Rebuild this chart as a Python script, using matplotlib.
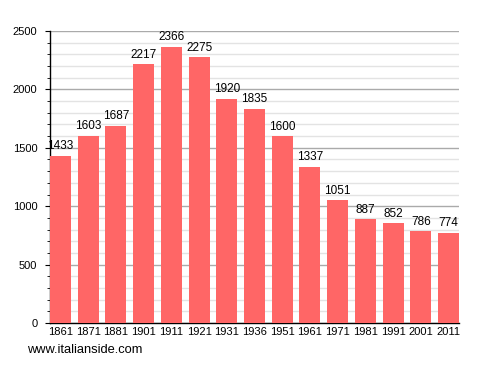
import matplotlib
matplotlib.use("Agg")
import matplotlib.pyplot as plt
from matplotlib.ticker import MultipleLocator

plt.rcParams["font.family"] = ["Liberation Sans", "DejaVu Sans"]

years = ["1861", "1871", "1881", "1901", "1911", "1921", "1931", "1936",
         "1951", "1961", "1971", "1981", "1991", "2001", "2011"]
population = [1433, 1603, 1687, 2217, 2366, 2275, 1920, 1835,
              1600, 1337, 1051, 887, 852, 786, 774]

fig = plt.figure(figsize=(4.88, 3.73), dpi=100)
ax = fig.add_axes([50/488, 1-323/373, 409/488, 292/373])

w = 0.76
x = list(range(len(years)))
ax.bar(x, population, width=w, align="edge", color="#FF6666", zorder=3)
ax.set_xlim(0, len(years) - 1 + w)
ax.set_ylim(0, 2500)
ax.set_xticks([i + w/2 for i in x])
ax.set_xticklabels(years, fontsize=8)
ax.tick_params(axis="x", length=0, pad=3)
ax.yaxis.set_major_locator(MultipleLocator(500))
ax.yaxis.set_minor_locator(MultipleLocator(100))
ax.tick_params(axis="y", which="major", length=3.6, labelsize=8, pad=5.5)
ax.tick_params(axis="y", which="minor", length=2)
ax.grid(axis="y", which="major", color="#AAAAAA", linewidth=1, zorder=0)
ax.grid(axis="y", which="minor", color="#E3E3E3", linewidth=1, zorder=0)
ax.set_axisbelow(True)
for s in ["top", "right"]:
    ax.spines[s].set_visible(False)
for s in ["left", "bottom"]:
    ax.spines[s].set_color("black")
    ax.spines[s].set_linewidth(1)

for i, v in zip(x, population):
    ax.annotate(str(v), (i + w/2, v), xytext=(0, 2.5), textcoords="offset points",
                ha="center", va="bottom", fontsize=8.5, zorder=4)

fig.text(27/488, 1-350/373, "www.italianside.com", fontsize=9.3, va="center", ha="left")
fig.savefig("out.png", dpi=100)
